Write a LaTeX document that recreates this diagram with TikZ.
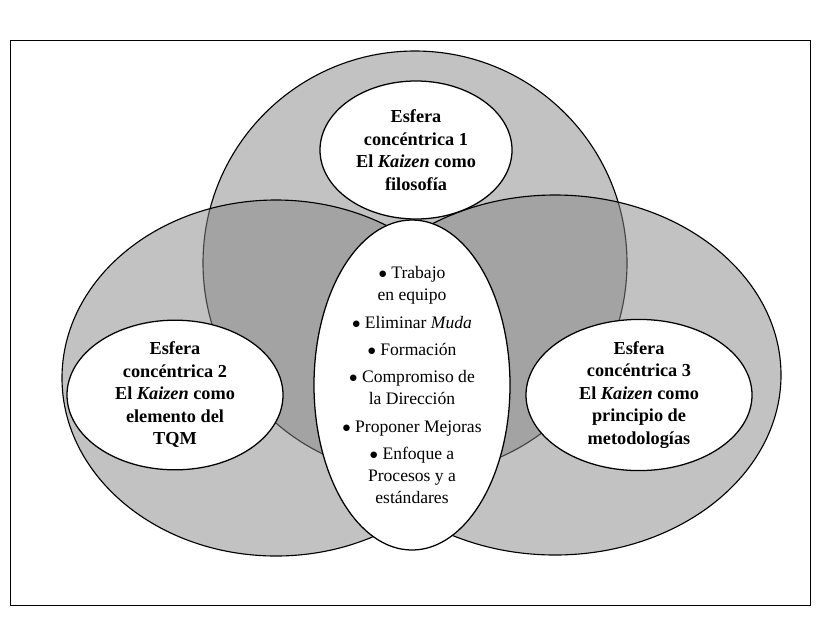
\documentclass[tikz,border=0pt]{standalone}
\usepackage{fontspec}
\setmainfont{Liberation Serif}
\usetikzlibrary{shapes.geometric}
\begin{document}
\begin{tikzpicture}
		[x=0.025cm, y=-0.025cm,
		esfera/.style={draw=black, line width=0.8pt, fill=gray!95, fill opacity=0.5},
		etiqueta/.style={ellipse, draw, line width=0.9pt, fill=white, align=center, inner sep=0pt,
			font=\fontsize{13}{16}\selectfont\bfseries},
		lista/.style={align=center, font=\fontsize{12.5}{15.5}\selectfont}]
		\useasboundingbox (0,0) rectangle (820,620);
		\fill[white] (0,0) rectangle (820,620);
		\draw[line width=0.6pt] (10,40) rectangle (810,605);
		% esferas concentricas
		\draw[esfera] (415,263) circle (212);
		\draw[esfera] (276,378) ellipse (214 and 178);
		\draw[esfera] (555,375) ellipse (226 and 180);
		% etiquetas
		\node[etiqueta, minimum width=192*0.025cm, minimum height=138*0.025cm] (esfera1) at (416,150)
			{Esfera\\conc\'entrica 1\\El \textit{Kaizen} como\\filosof\'ia};
		\node[etiqueta, minimum width=216*0.025cm, minimum height=140*0.025cm] (esfera2) at (175,395)
			{Esfera\\conc\'entrica 2\\El \textit{Kaizen} como\\elemento del\\TQM};
		\node[etiqueta, minimum width=226*0.025cm, minimum height=142*0.025cm] (esfera3) at (639,395)
			{Esfera\\conc\'entrica 3\\El \textit{Kaizen} como\\principio de\\metodolog\'ias};
		\node[ellipse, draw, line width=0.9pt, fill=white, minimum width=196*0.025cm,
			minimum height=330*0.025cm] (centro) at (412,385) {};
		\node[lista] (practicas) at (412,385)
			{$\bullet$ Trabajo\\en equipo\\[4pt]
			 $\bullet$ Eliminar \textit{Muda}\\[4pt]
			 $\bullet$ Formaci\'on\\[4pt]
			 $\bullet$ Compromiso de\\la Direcci\'on\\[4pt]
			 $\bullet$ Proponer Mejoras\\[4pt]
			 $\bullet$ Enfoque a\\Procesos y a\\est\'andares};
\end{tikzpicture}
\end{document}
